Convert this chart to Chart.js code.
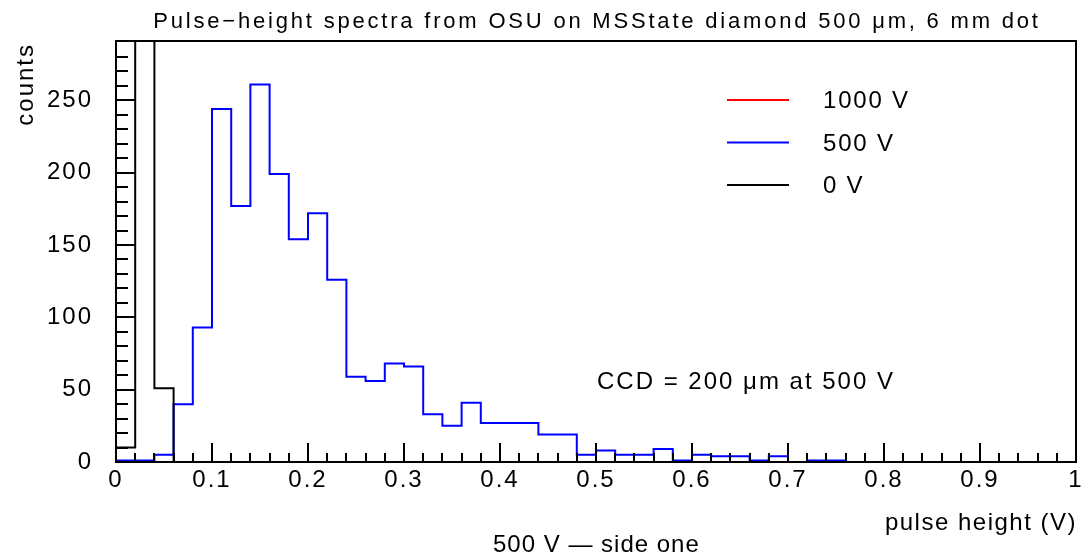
<!DOCTYPE html>
<html><head><meta charset="utf-8">
<style>html,body{margin:0;padding:0;background:#fff;overflow:hidden}canvas{display:block}</style>
<script src="https://cdn.jsdelivr.net/npm/chart.js@4.4.1/dist/chart.umd.min.js"></script>
</head><body>
<canvas id="c" width="1088" height="555"></canvas>
<script>
// ---- data ----
const binWidth = 0.02;
const binLow = [0.00,0.02,0.04,0.06,0.08,0.10,0.12,0.14,0.16,0.18,
                0.20,0.22,0.24,0.26,0.28,0.30,0.32,0.34,0.36,0.38,
                0.40,0.42,0.44,0.46,0.48,0.50,0.52,0.54,0.56,0.58,
                0.60,0.62,0.64,0.66,0.68,0.70,0.72,0.74,0.76,0.78,
                0.80,0.82,0.84,0.86,0.88,0.90,0.92,0.94,0.96,0.98];
const counts1000V = [];
const counts500V = [1,1,5,40,93,244,177,261,199,154,
                    172,126,59,56,68,66,33,25,41,27,
                    27,27,19,19,5,8,5,5,9,1,
                    5,4,4,1,4,0,1,1,0,0,
                    0,0,0,0,0,0,0,0,0,0];
const counts0V = [10,1500,51,0,0,0,0,0,0,0,
                  0,0,0,0,0,0,0,0,0,0,
                  0,0,0,0,0,0,0,0,0,0,
                  0,0,0,0,0,0,0,0,0,0,
                  0,0,0,0,0,0,0,0,0,0];
const seriesLabels = ['1000 V','500 V','0 V'];
const seriesColors = ['#ff0000','#0000ff','#000000'];
const xTickLabels = ['0','0.1','0.2','0.3','0.4','0.5','0.6','0.7','0.8','0.9','1'];
const yTickLabels = ['0','50','100','150','200','250'];
const titleText = 'Pulse\u2212height spectra from OSU on MSState diamond 500 \u03bcm, 6 mm dot';
const xTitle = 'pulse height (V)';
const yTitle = 'counts';
const noteText = 'CCD = 200 \u03bcm at 500 V';
const footText = '500 V \u2014 side one';

function histPoints(values){
  if (!values.length) return [];
  const pts = [{x: binLow[0], y: 0}];
  values.forEach((v,i)=>pts.push({x: binLow[i], y: v}));
  pts.push({x: binLow[values.length-1] + binWidth, y: 0});
  return pts;
}

const FONT = '"Liberation Sans", Arial, sans-serif';

const decor = {
  id: 'decor',
  beforeDraw(chart){ chart.ctx.letterSpacing = '2px'; },
  afterDatasetsDraw(chart){
    const ctx = chart.ctx, a = chart.chartArea;
    const xs = chart.scales.x, ys = chart.scales.y;
    ctx.save();
    ctx.strokeStyle = '#000'; ctx.lineWidth = 2;
    ctx.strokeRect(a.left, a.top, a.right - a.left, a.bottom - a.top);
    ctx.beginPath();
    ys.ticks.forEach(t=>{
      const v = Math.round(t.value*1000)/1000;
      if (Math.abs(v % 10) > 1e-6) return;
      const p = Math.round(ys.getPixelForValue(v));
      const len = (v % 50 === 0) ? 20 : 12;
      ctx.moveTo(a.left, p); ctx.lineTo(a.left + len, p);
    });
    xs.ticks.forEach(t=>{
      const k = Math.round(t.value * 50);
      const p = Math.round(xs.getPixelForValue(t.value));
      const len = (k % 5 === 0) ? 19 : 9;
      ctx.moveTo(p, a.bottom); ctx.lineTo(p, a.bottom - len);
    });
    ctx.stroke();
    ctx.restore();
  },
  afterDraw(chart){
    const ctx = chart.ctx, a = chart.chartArea;
    ctx.save();
    ctx.fillStyle = '#000';
    ctx.textBaseline = 'alphabetic';
    // title
    ctx.font = '22px ' + FONT; ctx.letterSpacing = '2.8px'; ctx.textAlign = 'center';
    ctx.fillText(titleText, (a.left + a.right)/2 + 1, 28);
    // note
    ctx.font = '24px ' + FONT; ctx.letterSpacing = '2px'; ctx.textAlign = 'left';
    ctx.fillText(noteText, 597, 389);
    // x title
    ctx.letterSpacing = '1.5px'; ctx.textAlign = 'right';
    ctx.fillText(xTitle, a.right + 1, 530);
    // foot
    ctx.letterSpacing = '1px'; ctx.textAlign = 'left';
    ctx.fillText(footText, 493, 552);
    // y title
    ctx.save();
    ctx.letterSpacing = '2px';
    ctx.translate(33, 43); ctx.rotate(-Math.PI/2); ctx.textAlign = 'right';
    ctx.fillText(yTitle, 0, 0);
    ctx.restore();
    // legend
    const rows = [100, 142.5, 185];
    ctx.letterSpacing = '1.8px'; ctx.textAlign = 'left';
    chart.data.datasets.forEach((ds,i)=>{
      const y = rows[i];
      ctx.strokeStyle = ds.borderColor; ctx.lineWidth = 2;
      ctx.beginPath(); ctx.moveTo(727, y); ctx.lineTo(789, y); ctx.stroke();
      ctx.fillStyle = '#000';
      ctx.fillText(ds.label, 823, y + 8);
    });
    ctx.restore();
  }
};

new Chart(document.getElementById('c'), {
  type: 'line',
  data: {
    datasets: [
      {label: seriesLabels[0], data: histPoints(counts1000V), borderColor: seriesColors[0], order: 2},
      {label: seriesLabels[1], data: histPoints(counts500V), borderColor: seriesColors[1], order: 1},
      {label: seriesLabels[2], data: histPoints(counts0V), borderColor: seriesColors[2], order: 0}
    ].map(d => Object.assign({borderWidth: 2, pointRadius: 0, stepped: 'before', fill: false, tension: 0}, d))
  },
  options: {
    responsive: false, animation: false, devicePixelRatio: 1, events: [],
    layout: {padding: {top: 41, right: 12, left: 0, bottom: 0}},
    plugins: {legend: {display: false}, tooltip: {enabled: false}, title: {display: false}},
    scales: {
      x: {
        type: 'linear', min: 0, max: 1,
        grid: {display: false, drawTicks: false}, border: {display: false},
        ticks: {
          stepSize: binWidth, autoSkip: false, maxRotation: 0, minRotation: 0, padding: 4,
          color: '#000', font: {family: FONT, size: 24},
          callback: v => xTickLabels.find(l => Math.abs(parseFloat(l) - v) < 1e-6) ?? ''
        },
        afterFit: s => { s.height = 93; }
      },
      y: {
        type: 'linear', min: 0, max: 291,
        grid: {display: false, drawTicks: false}, border: {display: false},
        ticks: {
          stepSize: 10, autoSkip: false, padding: 23,
          color: '#000', font: {family: FONT, size: 24},
          callback: v => yTickLabels.includes(String(v)) ? String(v) : ''
        },
        afterFit: s => { s.width = 116; }
      }
    }
  },
  plugins: [decor]
});
</script>
</body></html>
